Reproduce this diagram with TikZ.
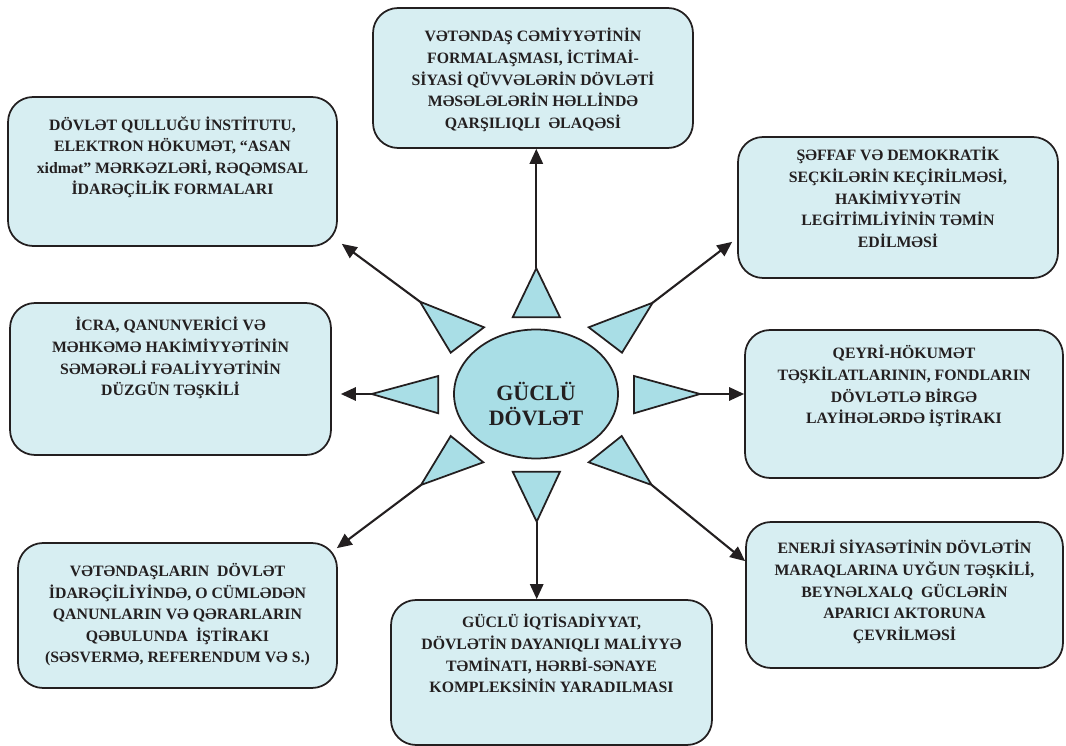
\documentclass[tikz,border=0pt]{standalone}
\usepackage{fontspec}
\setmainfont{Liberation Serif}
\usetikzlibrary{shapes.geometric,arrows.meta,calc}
\definecolor{tinta}{HTML}{231F20}
\definecolor{caixafundo}{HTML}{D7EEF2}
\definecolor{solfundo}{HTML}{A9DEE6}
\begin{document}
\begin{tikzpicture}
			[x=0.02cm, y=-0.02cm,
			caixa/.style	={rectangle, rounded corners=0.5cm, draw=tinta, fill=caixafundo, line width=1pt, inner sep=0pt},
			texto/.style	={anchor=north, align=center, inner sep=0pt, text=tinta, font=\fontsize{9}{12.3}\selectfont\bfseries},
			centro/.style	={ellipse, draw=tinta, fill=solfundo, line width=1pt, minimum width=3.28cm, minimum height=2.58cm},
			raio/.style		={draw=tinta, fill=solfundo, line width=1pt, line join=miter},
			seta/.style		={draw=tinta, line width=1.2pt, -{Triangle[length=8.5pt, width=7.5pt]}},]
			\useasboundingbox (0,0) rectangle (1066,746);
			\node[centro]	(guc)	at (536,394)	{};
			\node[align=center, text=tinta, font=\fontsize{12.5}{14.2}\selectfont\bfseries]	(tguc)	at (536,404)	{GÜCLÜ\\DÖVLƏT};
			\node[caixa, minimum width=6.40cm, minimum height=2.80cm]	(vet)	at (533,78)		{};
			\node[caixa, minimum width=6.58cm, minimum height=2.98cm]	(dov)	at (172.5,171.5)	{};
			\node[caixa, minimum width=6.40cm, minimum height=2.82cm]	(sec)	at (898,207.5)	{};
			\node[caixa, minimum width=6.42cm, minimum height=3.04cm]	(icr)	at (170.5,379)	{};
			\node[caixa, minimum width=6.36cm, minimum height=2.96cm]	(qey)	at (904,404)		{};
			\node[caixa, minimum width=6.38cm, minimum height=2.90cm]	(ref)	at (177.5,615.5)	{};
			\node[caixa, minimum width=6.42cm, minimum height=2.90cm]	(iqt)	at (551.5,672.5)	{};
			\node[caixa, minimum width=6.34cm, minimum height=2.92cm]	(ene)	at (904.5,595)	{};
			\node[texto]	(tvet)	at (533,28)		{VƏTƏNDAŞ CƏMİYYƏTİNİN\\FORMALAŞMASI, İCTİMAİ-\\SİYASİ QÜVVƏLƏRİN DÖVLƏTİ\\MƏSƏLƏLƏRİN HƏLLİNDƏ\\QARŞILIQLI \ ƏLAQƏSİ};
			\node[texto]	(tdov)	at (172.5,116)	{DÖVLƏT QULLUĞU İNSTİTUTU,\\ELEKTRON HÖKUMƏT, “ASAN\\xidmət” MƏRKƏZLƏRİ, RƏQƏMSAL\\İDARƏÇİLİK FORMALARI};
			\node[texto]	(tsec)	at (898,147)		{ŞƏFFAF VƏ DEMOKRATİK\\SEÇKİLƏRİN KEÇİRİLMƏSİ,\\HAKİMİYYƏTİN\\LEGİTİMLİYİNİN TƏMİN\\EDİLMƏSİ};
			\node[texto]	(ticr)	at (170.5,317)	{İCRA, QANUNVERİCİ VƏ\\MƏHKƏMƏ HAKİMİYYƏTİNİN\\SƏMƏRƏLİ FƏALİYYƏTİNİN\\DÜZGÜN TƏŞKİLİ};
			\node[texto]	(tqey)	at (904,345)		{QEYRİ-HÖKUMƏT\\TƏŞKİLATLARININ, FONDLARIN\\DÖVLƏTLƏ BİRGƏ\\LAYİHƏLƏRDƏ İŞTİRAKI};
			\node[texto]	(tref)	at (177.5,563)	{VƏTƏNDAŞLARIN \ DÖVLƏT\\İDARƏÇİLİYİNDƏ, O CÜMLƏDƏN\\QANUNLARIN VƏ QƏRARLARIN\\QƏBULUNDA \ İŞTİRAKI\\(SƏSVERMƏ, REFERENDUM VƏ S.)};
			\node[texto]	(tiqt)	at (551.5,614)	{GÜCLÜ İQTİSADİYYAT,\\DÖVLƏTİN DAYANIQLI MALİYYƏ\\TƏMİNATI, HƏRBİ-SƏNAYE\\KOMPLEKSİNİN YARADILMASI};
			\node[texto]	(tene)	at (904.5,540)	{ENERJİ SİYASƏTİNİN DÖVLƏTİN\\MARAQLARINA UYĞUN TƏŞKİLİ,\\BEYNƏLXALQ \ GÜCLƏRİN\\APARICI AKTORUNA\\ÇEVRİLMƏSİ};
			\coordinate	(r1)	at (536.3,268.3);
			\coordinate	(r2)	at (652.7,302.7);
			\coordinate	(r3)	at (700,394);
			\coordinate	(r4)	at (651.7,485);
			\coordinate	(r5)	at (536.7,521.7);
			\coordinate	(r6)	at (421,485);
			\coordinate	(r7)	at (371.7,394);
			\coordinate	(r8)	at (420,301.7);
			\path[raio]	(r1) -- (560,317.3) -- (512.7,317.3) -- cycle;
			\path[raio]	(r2) -- (622,352.7) -- (588.7,327.3) -- cycle;
			\path[raio]	(r3) -- (634,413.3) -- (634,376) -- cycle;
			\path[raio]	(r4) -- (588.7,462.3) -- (621.7,436) -- cycle;
			\path[raio]	(r5) -- (512.7,471.7) -- (560,471.7) -- cycle;
			\path[raio]	(r6) -- (450.7,436) -- (483.3,462.3) -- cycle;
			\path[raio]	(r7) -- (438.3,376) -- (438.3,413.3) -- cycle;
			\path[raio]	(r8) -- (484,327.3) -- (450.7,352.7) -- cycle;
			\draw[seta]	(r1) -- (r1 |- vet.south);
			\draw[seta]	(r2) -- ([shift={(-5,-37)}]sec.south west);
			\draw[seta]	(r3) -- (r3 -| qey.west);
			\draw[seta]	(r4) -- ([shift={(0,40)}]ene.north west);
			\draw[seta]	(r5) -- (r5 |- iqt.north);
			\draw[seta]	(r6) -- ([shift={(-1,6)}]ref.north east);
			\draw[seta, shorten >=0.18cm]	(r7) -- (r7 -| icr.east);
			\draw[seta]	(r8) -- ([shift={(4,-3)}]dov.south east);
		\end{tikzpicture}
\end{document}
